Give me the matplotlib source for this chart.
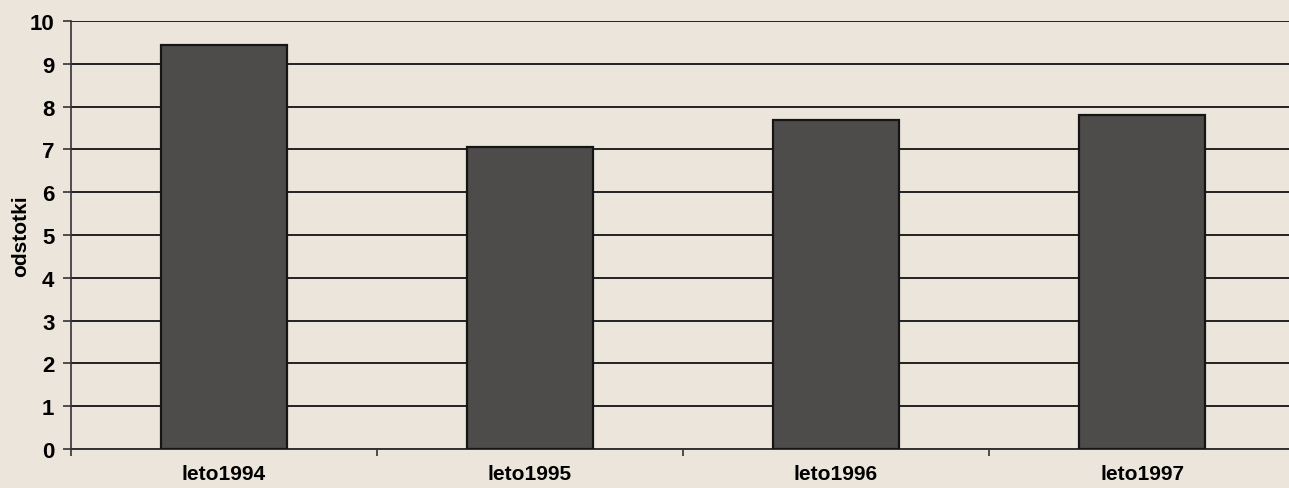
import numpy as np
from matplotlib import pyplot as plt

categories = ["leto1994", "leto1995", "leto1996", "leto1997"]
values = [9.45, 7.05, 7.7, 7.8]
yticks = list(range(0, 11))


def main():
    fig = plt.figure(figsize=(12.89, 4.89), dpi=100)
    fig.patch.set_facecolor("#ebe5dc")
    ax = fig.add_axes([71 / 1289, 0.0798, 1224 / 1289, 0.875])
    ax.set_facecolor("#ebe5dc")

    x = np.arange(len(categories))
    ax.bar(x, values, width=0.41, color="#4e4c4a", edgecolor="#151515",
           linewidth=1.6, zorder=3)

    ax.set_xlim(-0.5, len(categories) - 0.5)
    ax.set_ylim(0, 10)
    ax.set_yticks(yticks)
    ax.set_yticklabels([str(t) for t in yticks], fontweight="bold",
                       fontsize=16, family="Liberation Sans")
    ax.yaxis.grid(True, color="#222222", linewidth=1.4, zorder=1)

    # category labels in the middle, ticks on the boundaries
    ax.set_xticks(x)
    ax.set_xticklabels(categories, fontweight="bold", fontsize=15,
                       family="Liberation Sans")
    ax.tick_params(axis="x", length=0, pad=11)
    ax.set_xticks(np.arange(-0.5, len(categories)), minor=True)
    ax.tick_params(axis="x", which="minor", length=5, width=1.2,
                   color="#333333")
    ax.tick_params(axis="y", length=6, width=1.2, color="#333333", pad=6)

    for side in ["top", "right"]:
        ax.spines[side].set_visible(False)
    ax.spines["left"].set_color("#333333")
    ax.spines["left"].set_linewidth(1.2)
    ax.spines["bottom"].set_color("#333333")
    ax.spines["bottom"].set_linewidth(1.4)

    ax.set_ylabel("odstotki", fontweight="bold", fontsize=15,
                  family="Liberation Sans")
    ax.yaxis.set_label_coords(-41 / 1224, 0.5)

    fig.savefig("out.png", dpi=100, facecolor=fig.get_facecolor())


if __name__ == "__main__":
    main()
